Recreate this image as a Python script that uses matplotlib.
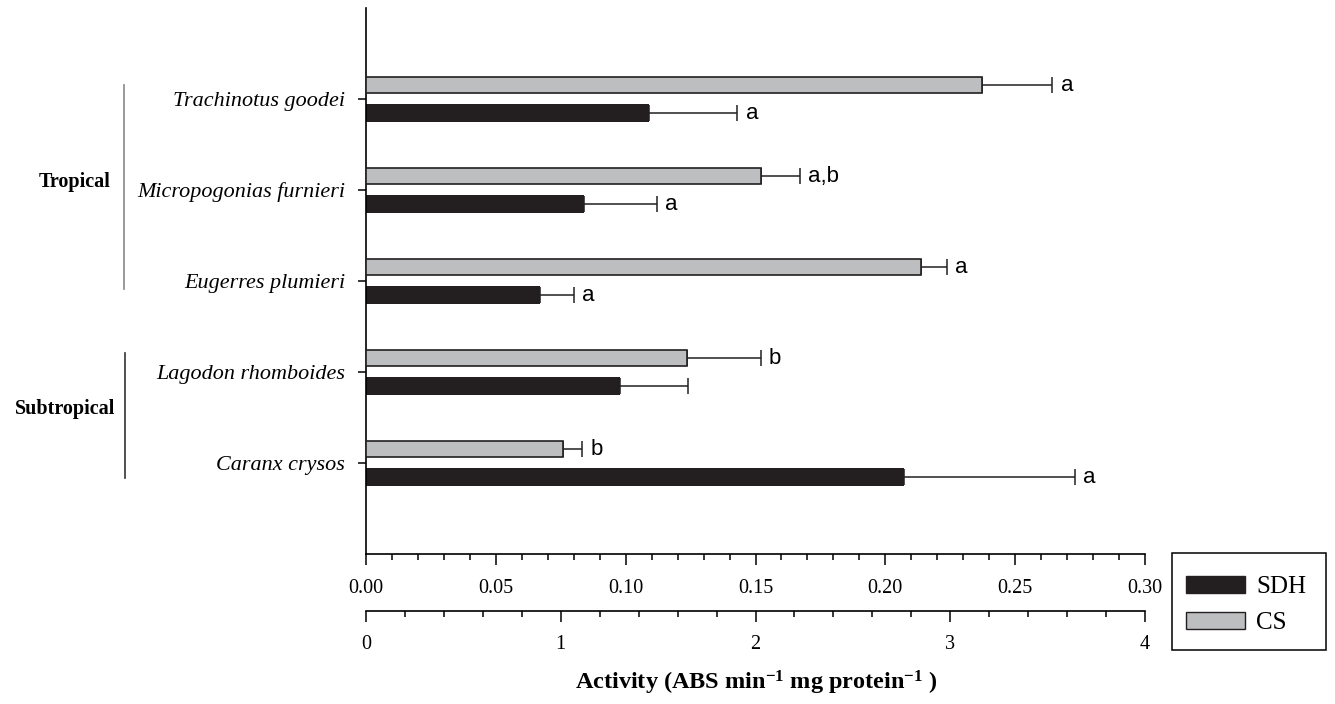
import numpy as np
import matplotlib.pyplot as plt
import matplotlib.transforms as mtransforms
from matplotlib.patches import Patch, Rectangle
from matplotlib.ticker import MultipleLocator, FormatStrFormatter

plt.rcParams['font.family'] = 'Liberation Serif'
plt.rcParams['mathtext.fontset'] = 'custom'
plt.rcParams['mathtext.rm'] = 'Liberation Serif:bold'
plt.rcParams['mathtext.it'] = 'Liberation Serif:bold'
plt.rcParams['mathtext.bf'] = 'Liberation Serif:bold'

# data, top to bottom
species = ['Trachinotus goodei', 'Micropogonias furnieri', 'Eugerres plumieri',
           'Lagodon rhomboides', 'Caranx crysos']
sdh = [0.109, 0.084, 0.067, 0.098, 0.207]
sdh_err = [0.034, 0.028, 0.013, 0.026, 0.066]
cs = [3.165, 2.028, 2.851, 1.646, 1.010]
cs_err = [0.36, 0.20, 0.133, 0.38, 0.10]
sdh_letters = ['a', 'a', 'a', '', 'a']
cs_letters = ['a', 'a,b', 'a', 'b', 'b']
groups = ['Tropical', 'Subtropical']

dark = '#231f20'
grey = '#bcbec0'
W, H = 1335, 704

fig = plt.figure(figsize=(W / 100, H / 100), dpi=100)
ax = fig.add_axes([366 / W, 1 - 554 / H, (1145 - 366) / W, (554 - 8) / H])
ypos = np.arange(len(species))[::-1]
n = len(species)

# SDH bars (top scale)
ax.barh(ypos - 0.155, sdh, height=0.19, color=dark, zorder=2)
ax.errorbar(sdh, ypos - 0.155, xerr=[np.zeros(n), sdh_err], fmt='none',
            ecolor=dark, elinewidth=1.1, capsize=6, capthick=1.1, zorder=1)
for x, e, y, t in zip(sdh, sdh_err, ypos - 0.155, sdh_letters):
    if t:
        ax.annotate(t, xy=(x + e, y), xytext=(6, 0), textcoords='offset points',
                    va='center', ha='left', family='Liberation Sans', fontsize=16)

ax.set_xlim(0, 0.30)
ax.set_ylim(-1, 5)
ax.xaxis.set_major_locator(MultipleLocator(0.05))
ax.xaxis.set_minor_locator(MultipleLocator(0.01))
ax.xaxis.set_major_formatter(FormatStrFormatter('%.2f'))
ax.set_yticks(ypos)
ax.set_yticklabels(species, style='italic', fontsize=15.9)
ax.tick_params(axis='y', length=6, width=1.1, pad=9)
ax.tick_params(axis='x', which='major', length=8, width=1.1, pad=10, labelsize=14.5)
ax.tick_params(axis='x', which='minor', length=4, width=1.1)
for s in ['top', 'right']:
    ax.spines[s].set_visible(False)
for s in ['left', 'bottom']:
    ax.spines[s].set_linewidth(1.2)

# CS bars (bottom scale)
ax2 = ax.twiny()
ax2.barh(ypos + 0.15, cs, height=0.175, color=grey, edgecolor=dark,
         linewidth=1.2, zorder=2)
ax2.errorbar(cs, ypos + 0.15, xerr=[np.zeros(n), cs_err], fmt='none',
             ecolor=dark, elinewidth=1.1, capsize=6, capthick=1.1, zorder=1)
for x, e, y, t in zip(cs, cs_err, ypos + 0.15, cs_letters):
    ax2.annotate(t, xy=(x + e, y), xytext=(6, 0), textcoords='offset points',
                 va='center', ha='left', family='Liberation Sans', fontsize=16)
ax2.set_xlim(0, 4)
ax2.set_ylim(-1, 5)
ax2.xaxis.set_ticks_position('bottom')
ax2.xaxis.set_label_position('bottom')
for s in ['top', 'right', 'left']:
    ax2.spines[s].set_visible(False)
ax2.spines['bottom'].set_visible(True)
ax2.spines['bottom'].set_position(('outward', 41))
ax2.spines['bottom'].set_linewidth(1.2)
ax2.xaxis.set_major_locator(MultipleLocator(1))
ax2.xaxis.set_minor_locator(MultipleLocator(0.2))
ax2.tick_params(axis='x', which='major', length=8, width=1.1, pad=9, labelsize=14.5)
ax2.tick_params(axis='x', which='minor', length=4, width=1.1)

# group brackets
trans = mtransforms.blended_transform_factory(fig.transFigure, ax.transData)
ax.plot([124 / W, 124 / W], [1.91, 4.155], transform=trans, clip_on=False,
        color='#888888', lw=1.2)
ax.plot([125 / W, 125 / W], [-0.168, 1.207], transform=trans, clip_on=False,
        color='#333333', lw=1.2)
ax.text(111 / W, 3.09, groups[0], transform=trans, ha='right', va='center',
        fontsize=14.5, fontweight='bold')
ax.text(115 / W, 0.59, groups[1], transform=trans, ha='right', va='center',
        fontsize=14.5, fontweight='bold')

# legend (frame drawn separately so padding can differ)
handles = [Patch(facecolor=dark, edgecolor=dark), Patch(facecolor=grey, edgecolor=dark)]
leg = fig.legend(handles, ['SDH', 'CS'], loc='upper left',
                 bbox_to_anchor=(1171 / W, 1 - 561 / H), frameon=False,
                 fontsize=18, handlelength=2.36, handleheight=0.67,
                 borderpad=0.6, labelspacing=0.54, handletextpad=0.45,
                 borderaxespad=0)
fig.add_artist(Rectangle((1172 / W, 1 - 650 / H), 154 / W, 97 / H,
                         transform=fig.transFigure, fill=False,
                         edgecolor='black', linewidth=1.1))

fig.text(756 / W, 1 - 683 / H, r'Activity (ABS min$^{-1}$ mg protein$^{-1}$ )',
         ha='center', va='center', fontsize=17.5, fontweight='bold')

fig.savefig('out.png', dpi=100)
